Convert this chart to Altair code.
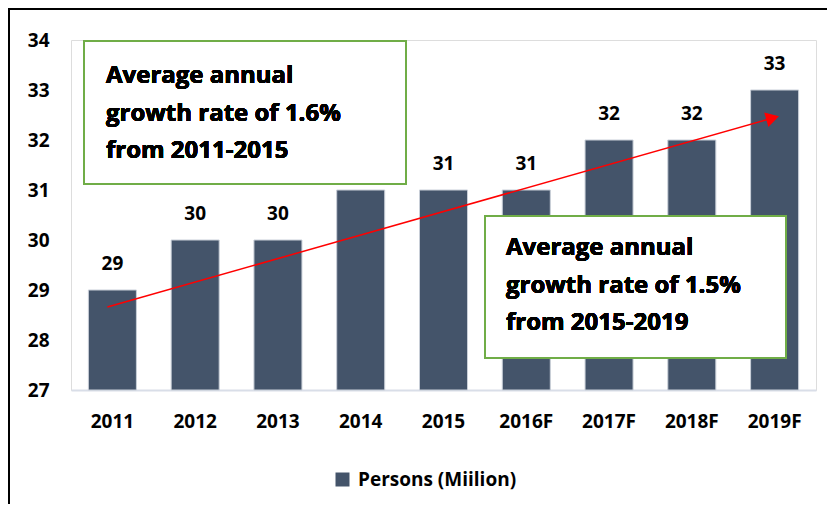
import altair as alt
import pandas as pd

years = ["2011", "2012", "2013", "2014", "2015", "2016F", "2017F", "2018F", "2019F"]
persons = [29, 30, 30, 31, 31, 31, 32, 32, 33]
series_name = "Persons (Miilion)"

arrow_from = "2011"
arrow_to = "2019F"
arrow_y_start = 28.66
arrow_y_end = 32.44

box1_lines = "Average annual\ngrowth rate of 1.6%\nfrom 2011-2015"
box2_lines = "Average annual\ngrowth rate of 1.5%\nfrom 2015-2019"

FONT = "Open Sans"
BAR = "#44546A"
GREEN = "#70AD47"

df = pd.DataFrame({"year": years, "value": persons, "series": [series_name] * len(years)})
arrow_df = pd.DataFrame({"x": [arrow_from], "x2": [arrow_to], "y": [arrow_y_start], "y2": [arrow_y_end]})
head_df = pd.DataFrame({"x": [arrow_to], "y": [arrow_y_end]})

W, H = 745, 350

xenc = alt.X("year:N", sort=years, title=None,
             scale=alt.Scale(paddingInner=0.42, paddingOuter=0.21),
             axis=alt.Axis(labelAngle=0, ticks=False, labelPadding=22, labelFontSize=19,
                           labelFont=FONT, labelFontWeight="bold", labelColor="#000000",
                           domainColor="#D9DEE8", domainWidth=2))
yscale = alt.Scale(domain=[27, 34], nice=False, zero=False)

bars = alt.Chart(df).mark_bar(stroke="#C9CFD8", strokeWidth=1).encode(
    x=xenc,
    y=alt.Y("value:Q", scale=yscale, title=None,
            axis=alt.Axis(values=[27, 28, 29, 30, 31, 32, 33, 34], grid=False, domain=False,
                          ticks=False, labelPadding=22, labelFontSize=19, labelFont=FONT,
                          labelFontWeight="bold", labelColor="#000000")),
    y2=alt.datum(27),
    color=alt.Color("series:N", scale=alt.Scale(range=[BAR]),
                    legend=alt.Legend(title=None, orient="none", legendX=262, legendY=430,
                                      symbolType="square", symbolSize=196, symbolStrokeWidth=0,
                                      labelFont=FONT, labelFontSize=19, labelFontWeight="bold",
                                      labelColor="#000000", labelOffset=6)),
)

labels = alt.Chart(df).mark_text(font=FONT, fontSize=19, fontWeight="bold", color="#000000",
                                 baseline="alphabetic", dy=-20).encode(
    x=alt.X("year:N", sort=years),
    y=alt.Y("value:Q", scale=yscale),
    text=alt.Text("value:Q"),
)

arrow = alt.Chart(arrow_df).mark_rule(color="#FF0000", strokeWidth=1.5, xOffset=-5, x2Offset=-2).encode(
    x=alt.X("x:N", sort=years), x2="x2:N",
    y=alt.Y("y:Q", scale=yscale), y2="y2:Q",
)

head = alt.Chart(head_df).mark_point(shape="triangle-right", filled=True, color="#FF0000",
                                     opacity=1, size=230, angle=344, xOffset=-2).encode(
    x=alt.X("x:N", sort=years),
    y=alt.Y("y:Q", scale=yscale),
)

box1 = alt.Chart(df).mark_rect(fill="white", stroke=GREEN, strokeWidth=2).encode(
    x=alt.value(13), x2=alt.value(335), y=alt.value(1), y2=alt.value(144))
box2 = alt.Chart(df).mark_rect(fill="white", stroke=GREEN, strokeWidth=2).encode(
    x=alt.value(414), x2=alt.value(715), y=alt.value(176), y2=alt.value(318))

text1 = alt.Chart(df).mark_text(font=FONT, fontSize=24, fontWeight="bold", color="#000000",
                                align="left", baseline="middle", lineBreak="\n",
                                lineHeight=37.5, text=box1_lines).encode(
    x=alt.value(35), y=alt.value(36))
text2 = alt.Chart(df).mark_text(font=FONT, fontSize=24, fontWeight="bold", color="#000000",
                                align="left", baseline="middle", lineBreak="\n",
                                lineHeight=37.5, text=box2_lines).encode(
    x=alt.value(435), y=alt.value(208))

frame_top = alt.Chart(df).mark_rule(color="#000000", strokeWidth=2).encode(
    x=alt.value(-62), x2=alt.value(758), y=alt.value(-31))
frame_left = alt.Chart(df).mark_rule(color="#000000", strokeWidth=2).encode(
    x=alt.value(-62), y=alt.value(-32), y2=alt.value(472))

chart = alt.layer(bars, labels, arrow, head, box1, box2, text1, text2, frame_top, frame_left).properties(
    width=W, height=H,
    autosize=alt.AutoSizeParams(type="none"),
    padding={"left": 63, "top": 32, "right": 11, "bottom": 114},
).configure_view(stroke=None).configure(background="white")

chart.save("out.html", embed_options={"renderer": "svg", "actions": False})
